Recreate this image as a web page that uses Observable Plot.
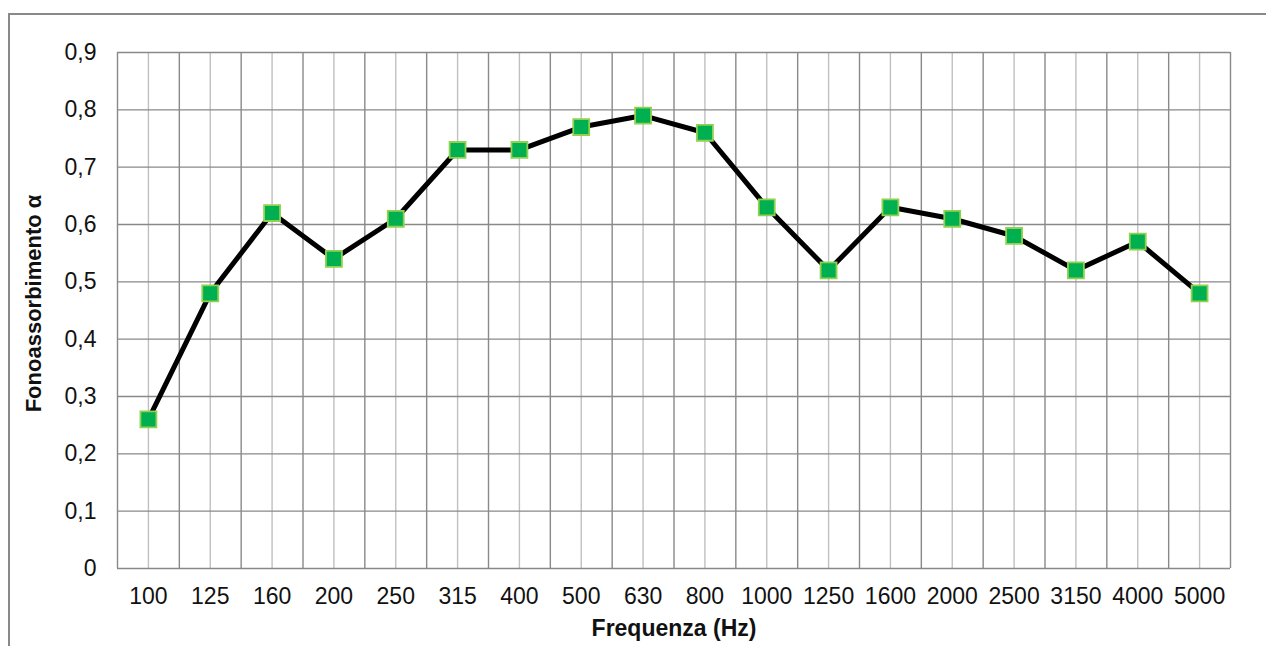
<!DOCTYPE html>
<html>
<head>
<meta charset="utf-8">
<script src="https://cdn.jsdelivr.net/npm/d3@7"></script>
<script src="https://cdn.jsdelivr.net/npm/@observablehq/plot@0.6"></script>
<style>
  html, body { margin: 0; padding: 0; background: #fff; overflow: hidden; }
  #wrap { position: relative; width: 1266px; height: 646px; }
  #border { position: absolute; left: 8px; top: 13px; width: 1300px; height: 700px; border: 2px solid #898989; box-sizing: border-box; }
  #chart { position: absolute; left: 0; top: 0; }
  #chart svg { font-family: "Liberation Sans", Arial, sans-serif; }
</style>
</head>
<body>
<div id="wrap">
  <div id="border"></div>
  <div id="chart"></div>
</div>
<script>
const frequencies = ["100","125","160","200","250","315","400","500","630","800","1000","1250","1600","2000","2500","3150","4000","5000"];
const alpha = [0.26,0.48,0.62,0.54,0.61,0.73,0.73,0.77,0.79,0.76,0.63,0.52,0.63,0.61,0.58,0.52,0.57,0.48];
const yTicks = [0,0.1,0.2,0.3,0.4,0.5,0.6,0.7,0.8,0.9];
const xTitle = "Frequenza (Hz)";
const yTitle = "Fonoassorbimento α";

const data = frequencies.map((f, i) => ({i, f, a: alpha[i]}));
const centers = frequencies.map((f, i) => i);
const bounds = [-0.5, ...frequencies.map((f, i) => i + 0.5)];

const chart = Plot.plot({
  width: 1266,
  height: 646,
  marginLeft: 117,
  marginRight: 36,
  marginTop: 52,
  marginBottom: 78,
  style: {fontFamily: "Liberation Sans, Arial, sans-serif", background: "transparent", overflow: "visible"},
  x: {type: "linear", domain: [-0.5, frequencies.length - 0.5], axis: null},
  y: {domain: [0, 0.9], axis: null},
  marks: [
    Plot.ruleX(centers, {x: d => d, y1: 0, y2: 0.9, stroke: "#c0c0c0", strokeWidth: 1.4}),
    Plot.ruleY(yTicks, {y: d => d, x1: -0.5, x2: frequencies.length - 0.5, stroke: "#898989", strokeWidth: 1.4}),
    Plot.ruleX(bounds, {x: d => d, y1: 0, y2: 0.9, stroke: "#898989", strokeWidth: 1.4}),
    Plot.axisY(yTicks, {tickSize: 0, tickPadding: 21, fontSize: 23, fill: "#111", tickFormat: d => d === 0 ? "0" : d.toFixed(1).replace(".", ","), label: null}),
    Plot.axisX(centers, {tickSize: 0, tickPadding: 19, fontSize: 23, fill: "#111", tickFormat: i => frequencies[i], label: null}),
    Plot.line(data, {x: "i", y: "a", stroke: "#000", strokeWidth: 5, strokeLinejoin: "round"}),
    Plot.dot(data, {x: "i", y: "a", symbol: "square", r: 9, fill: "#00b050", stroke: "#92d050", strokeWidth: 1.8}),
    Plot.text([xTitle], {frameAnchor: "bottom", dy: 67, text: d => d, fontSize: 23, fontWeight: "bold", fill: "#111"}),
    Plot.text([yTitle], {frameAnchor: "left", textAnchor: "middle", dx: -84, dy: -7, rotate: -90, text: d => d, fontSize: 22, fontWeight: "bold", fill: "#111"})
  ]
});
document.getElementById("chart").appendChild(chart);
</script>
</body>
</html>
